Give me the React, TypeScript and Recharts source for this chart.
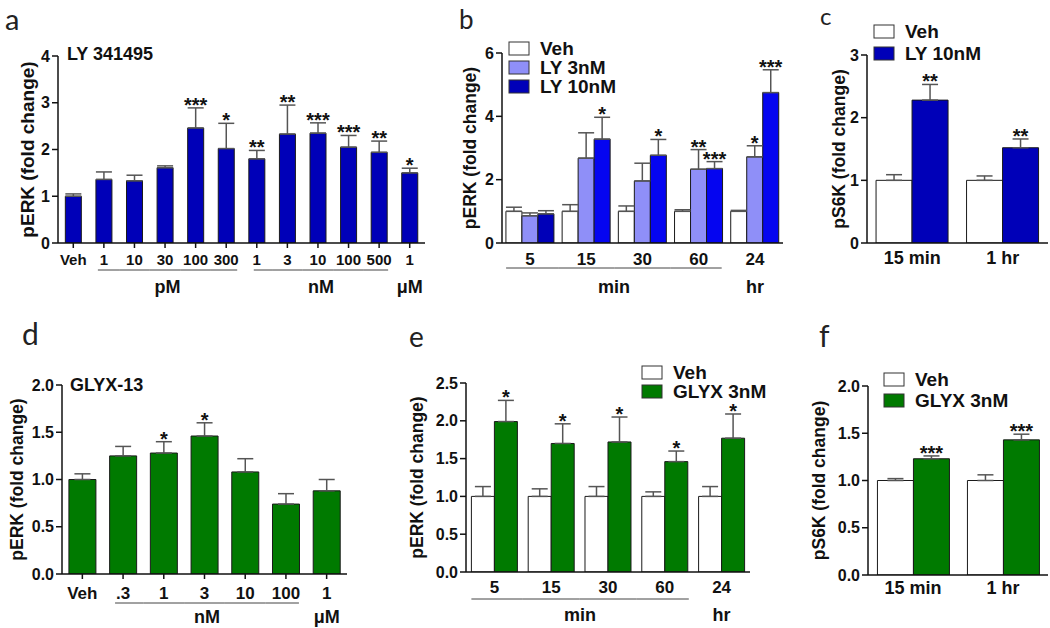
import React from 'react';
import { BarChart, Bar, XAxis, YAxis, ErrorBar, LabelList, Cell } from 'recharts';

const FONT = "'Liberation Sans', Arial, Helvetica, sans-serif";
const INK = '#111';

// panel a: LY 341495 dose response
const aCats = ['Veh', '1', '10', '30', '100', '300', '1', '3', '10', '100', '500', '1'];
const aMean = [1.0, 1.36, 1.33, 1.61, 2.46, 2.02, 1.8, 2.33, 2.35, 2.05, 1.94, 1.5];
const aErr = [0.05, 0.16, 0.12, 0.04, 0.43, 0.54, 0.18, 0.62, 0.22, 0.25, 0.24, 0.1];
const aStars = ['', '', '', '', '***', '*', '**', '**', '***', '***', '**', '*'];

// panel b: LY time course
const bCats = ['5', '15', '30', '60', '24'];
const bVeh = [1.0, 1.0, 1.0, 1.0, 1.0];
const bVehErr = [0.13, 0.21, 0.17, 0.05, 0.03];
const bLy3 = [0.86, 2.68, 1.96, 2.33, 2.72];
const bLy3Err = [0.09, 0.8, 0.56, 0.62, 0.35];
const bLy3Stars = ['', '', '', '**', '*'];
const bLy10 = [0.92, 3.28, 2.77, 2.35, 4.75];
const bLy10Err = [0.1, 0.69, 0.5, 0.22, 0.72];
const bLy10Stars = ['', '*', '*', '***', '***'];

// panel c: pS6K, LY
const cCats = ['15 min', '1 hr'];
const cVeh = [1.0, 1.0];
const cVehErr = [0.09, 0.07];
const cLy = [2.28, 1.52];
const cLyErr = [0.25, 0.14];
const cLyStars = ['**', '**'];

// panel d: GLYX-13 dose response
const dCats = ['Veh', '.3', '1', '3', '10', '100', '1'];
const dMean = [1.0, 1.25, 1.28, 1.46, 1.08, 0.74, 0.88];
const dErr = [0.06, 0.1, 0.12, 0.14, 0.14, 0.11, 0.12];
const dStars = ['', '', '*', '*', '', '', ''];

// panel e: GLYX time course
const eCats = ['5', '15', '30', '60', '24'];
const eVeh = [1.0, 1.0, 1.0, 1.0, 1.0];
const eVehErr = [0.13, 0.1, 0.13, 0.06, 0.13];
const eGlyx = [1.99, 1.7, 1.72, 1.46, 1.77];
const eGlyxErr = [0.28, 0.26, 0.33, 0.14, 0.32];
const eGlyxStars = ['*', '*', '*', '*', '*'];

// panel f: pS6K, GLYX
const fCats = ['15 min', '1 hr'];
const fVeh = [1.0, 1.0];
const fVehErr = [0.02, 0.06];
const fGlyx = [1.23, 1.43];
const fGlyxErr = [0.03, 0.06];
const fGlyxStars = ['***', '***'];

const none = (n: number) => Array(n).fill('');

type Series = { name: string; fill: string; cells?: string[]; mean: number[]; err: number[]; stars: string[] };
type Group = { from: number; to: number; label: string; line: boolean; l: number; r: number };
type Legend = { x: number; y: number; step: number; textX: number };
type PanelCfg = {
  box: [number, number, number, number];
  cats: string[];
  series: Series[];
  yTicks: number[];
  yDigits: number;
  yLabel: string;
  yLabelSize: number;
  yLabelX: number;
  yTickSize: number;
  xTickSize: number;
  xTickDy: number;
  xTickLine: boolean;
  groups: Group[];
  lineDy: number;
  unitDy: number;
  gap: string;
  legend?: Legend;
};

const BLUE = '#0000b8';
const BRIGHT = '#0505f0';
const LIGHT = '#8f8ff8';
const GREEN = '#007a00';

const panels: PanelCfg[] = [
  {
    box: [58, 56, 425, 243],
    cats: aCats,
    series: [{ name: 'LY', fill: BLUE, mean: aMean, err: aErr, stars: aStars }],
    yTicks: [0, 1, 2, 3, 4], yDigits: 0,
    yLabel: 'pERK (fold change)', yLabelSize: 19, yLabelX: 27,
    yTickSize: 16, xTickSize: 15, xTickDy: 16, xTickLine: true,
    groups: [
      { from: 1, to: 5, label: 'pM', line: true, l: 6, r: 11 },
      { from: 6, to: 10, label: 'nM', line: true, l: 3, r: 9 },
      { from: 11, to: 11, label: 'μM', line: false, l: 0, r: 0 },
    ],
    lineDy: 27, unitDy: 44, gap: '24%',
  },
  {
    box: [502, 53, 783, 243],
    cats: bCats,
    series: [
      { name: 'Veh', fill: '#ffffff', mean: bVeh, err: bVehErr, stars: none(5) },
      { name: 'LY 3nM', fill: LIGHT, mean: bLy3, err: bLy3Err, stars: bLy3Stars },
      { name: 'LY 10nM', fill: BLUE, cells: [BLUE, BRIGHT, BRIGHT, BRIGHT, BRIGHT], mean: bLy10, err: bLy10Err, stars: bLy10Stars },
    ],
    yTicks: [0, 2, 4, 6], yDigits: 0,
    yLabel: 'pERK (fold change)', yLabelSize: 17.5, yLabelX: 470,
    yTickSize: 16, xTickSize: 17, xTickDy: 16, xTickLine: false,
    groups: [
      { from: 0, to: 3, label: 'min', line: true, l: 24, r: 23 },
      { from: 4, to: 4, label: 'hr', line: false, l: 0, r: 0 },
    ],
    lineDy: 25, unitDy: 44, gap: '7%',
    legend: { x: 509, y: 42, step: 19, textX: 540 },
  },
  {
    box: [867, 55, 1048, 243],
    cats: cCats,
    series: [
      { name: 'Veh', fill: '#ffffff', mean: cVeh, err: cVehErr, stars: none(2) },
      { name: 'LY 10nM', fill: BLUE, mean: cLy, err: cLyErr, stars: cLyStars },
    ],
    yTicks: [0, 1, 2, 3], yDigits: 0,
    yLabel: 'pS6K (fold change)', yLabelSize: 17.5, yLabelX: 839,
    yTickSize: 16, xTickSize: 18, xTickDy: 15, xTickLine: false,
    groups: [], lineDy: 25, unitDy: 44, gap: '10%',
    legend: { x: 874, y: 25, step: 22, textX: 905 },
  },
  {
    box: [62, 385, 347, 574],
    cats: dCats,
    series: [{ name: 'GLYX', fill: GREEN, mean: dMean, err: dErr, stars: dStars }],
    yTicks: [0, 0.5, 1, 1.5, 2], yDigits: 1,
    yLabel: 'pERK (fold change)', yLabelSize: 17.5, yLabelX: 17,
    yTickSize: 16, xTickSize: 17, xTickDy: 19, xTickLine: true,
    groups: [
      { from: 1, to: 5, label: 'nM', line: true, l: 8, r: 13 },
      { from: 6, to: 6, label: 'μM', line: false, l: 0, r: 0 },
    ],
    lineDy: 29, unitDy: 43, gap: '17%',
  },
  {
    box: [466, 383, 750, 572],
    cats: eCats,
    series: [
      { name: 'Veh', fill: '#ffffff', mean: eVeh, err: eVehErr, stars: none(5) },
      { name: 'GLYX 3nM', fill: GREEN, mean: eGlyx, err: eGlyxErr, stars: eGlyxStars },
    ],
    yTicks: [0, 0.5, 1, 1.5, 2, 2.5], yDigits: 1,
    yLabel: 'pERK (fold change)', yLabelSize: 17.5, yLabelX: 417,
    yTickSize: 16, xTickSize: 17, xTickDy: 15, xTickLine: false,
    groups: [
      { from: 0, to: 3, label: 'min', line: true, l: 23, r: 24 },
      { from: 4, to: 4, label: 'hr', line: false, l: 0, r: 0 },
    ],
    lineDy: 27, unitDy: 43, gap: '9.5%',
    legend: { x: 642, y: 366, step: 19, textX: 673 },
  },
  {
    box: [868, 386, 1048, 575],
    cats: fCats,
    series: [
      { name: 'Veh', fill: '#ffffff', mean: fVeh, err: fVehErr, stars: none(2) },
      { name: 'GLYX 3nM', fill: GREEN, mean: fGlyx, err: fGlyxErr, stars: fGlyxStars },
    ],
    yTicks: [0, 0.5, 1, 1.5, 2], yDigits: 1,
    yLabel: 'pS6K (fold change)', yLabelSize: 17.5, yLabelX: 819,
    yTickSize: 16, xTickSize: 18, xTickDy: 13, xTickLine: false,
    groups: [], lineDy: 25, unitDy: 44, gap: '10.5%',
    legend: { x: 884, y: 373, step: 21, textX: 915 },
  },
];

const letters = [
  { t: 'a', x: 5, y: 30, s: 29 },
  { t: 'b', x: 459, y: 29, s: 26 },
  { t: 'c', x: 820, y: 25, s: 24 },
  { t: 'd', x: 22, y: 345, s: 30 },
  { t: 'e', x: 409, y: 347, s: 28 },
  { t: 'f', x: 819, y: 347, s: 30 },
];

const titles = [
  { t: 'LY 341495', x: 67, y: 60 },
  { t: 'GLYX-13', x: 70, y: 391 },
];

function Panel({ cfg }: { cfg: PanelCfg }) {
  const [l, t, r, b] = cfg.box;
  const W = r - l + 70;
  const H = b - t + 85;
  const axisY = b - t + 20;
  const band = (r - l) / cfg.cats.length;
  const yMax = cfg.yTicks[cfg.yTicks.length - 1];
  const ppu = (b - t) / yMax;

  const rows = cfg.cats.map((c, i) => {
    const row: any = { key: `c${i}` };
    cfg.series.forEach((s, k) => {
      row[`v${k}`] = s.mean[i];
      row[`e${k}`] = [0, s.err[i]];
      row[`s${k}`] = s.stars[i] ? `${s.stars[i]}|${s.err[i]}` : '';
    });
    return row;
  });

  const renderTick = (p: any) => {
    const i = p.index ?? p.payload?.index ?? 0;
    const x = p.x;
    const els: React.ReactNode[] = [
      <text key="t" x={x} y={axisY + cfg.xTickDy} textAnchor="middle" dominantBaseline="central"
        fontSize={cfg.xTickSize} fontWeight={700} fontFamily={FONT} fill={INK}>{cfg.cats[i]}</text>,
    ];
    cfg.groups.forEach((g, gi) => {
      if (i < g.from || i > g.to) return;
      if (g.line) {
        const x1 = i === g.from ? x - g.l : x - band / 2;
        const x2 = i === g.to ? x + g.r : x + band / 2;
        els.push(<line key={`l${gi}`} x1={x1} x2={x2} y1={axisY + cfg.lineDy} y2={axisY + cfg.lineDy} stroke="#444" strokeWidth={1} />);
      }
      if (i === g.from) {
        const span = (g.to - g.from) * band;
        const mid = x + (span + g.r - g.l) / 2;
        els.push(
          <text key={`u${gi}`} x={mid} y={axisY + cfg.unitDy} textAnchor="middle" dominantBaseline="central"
            fontSize={18} fontWeight={700} fontFamily={FONT} fill={INK}>{g.label}</text>,
        );
      }
    });
    return <g>{els}</g>;
  };

  const renderStar = (p: any) => {
    const raw = p.value;
    if (!raw) return null;
    const [txt, e] = String(raw).split('|');
    const vb = p.viewBox ?? p;
    const top = Math.min(vb.y, vb.y + vb.height);
    const yErr = top - Number(e) * ppu;
    return (
      <text x={vb.x + vb.width / 2} y={yErr + 4} textAnchor="middle" fontSize={20} fontWeight={700}
        fontFamily={FONT} fill={INK}>{txt}</text>
    );
  };

  return (
    <div style={{ position: 'absolute', left: l - 60, top: t - 20, width: W, height: H }}>
      <BarChart width={W} height={H} data={rows} margin={{ top: 20, right: 10, bottom: 5, left: 20 }}
        barCategoryGap={cfg.gap} barGap={0}>
        <XAxis dataKey="key" height={60} interval={0} tickSize={5}
          axisLine={{ stroke: INK, strokeWidth: 1.5 }}
          tickLine={cfg.xTickLine ? { stroke: INK, strokeWidth: 1.5 } : false}
          tick={renderTick} />
        <YAxis width={40} domain={[0, yMax]} ticks={cfg.yTicks} interval={0} allowDataOverflow
          tickFormatter={(v: number) => v.toFixed(cfg.yDigits)}
          axisLine={{ stroke: INK, strokeWidth: 1.5 }} tickLine={{ stroke: INK, strokeWidth: 1.5 }} tickSize={6}
          tick={{ fill: INK, fontSize: cfg.yTickSize, fontWeight: 700, fontFamily: FONT }} />
        {cfg.series.map((s, k) => (
          <Bar key={k} dataKey={`v${k}`} fill={s.fill} stroke="#1a1a1a" strokeWidth={1} isAnimationActive={false}>
            {s.cells && s.cells.map((c, i) => <Cell key={i} fill={c} />)}
            <ErrorBar dataKey={`e${k}`} width={8} stroke="#555" strokeWidth={1.5} direction="y" />
            <LabelList dataKey={`s${k}`} content={renderStar} />
          </Bar>
        ))}
      </BarChart>
    </div>
  );
}

export default function App() {
  return (
    <div style={{ position: 'absolute', left: 0, top: 0, width: 1050, height: 628, background: '#fff', overflow: 'hidden' }}>
      {panels.map((p, i) => <Panel key={i} cfg={p} />)}
      <svg width={1050} height={628} style={{ position: 'absolute', left: 0, top: 0, pointerEvents: 'none' }}>
        {letters.map((L) => (
          <text key={L.t} x={L.x} y={L.y} fontSize={L.s} fontFamily="Lato, 'Open Sans', sans-serif" fill="#222">{L.t}</text>
        ))}
        {titles.map((T) => (
          <text key={T.t} x={T.x} y={T.y} fontSize={18} fontWeight={700} fontFamily={FONT} fill={INK}>{T.t}</text>
        ))}
        {panels.map((p, i) => {
          const cy = (p.box[1] + p.box[3]) / 2;
          return (
            <text key={`yl${i}`} x={p.yLabelX} y={cy} transform={`rotate(-90 ${p.yLabelX} ${cy})`}
              textAnchor="middle" dominantBaseline="central" fontSize={p.yLabelSize} fontWeight={700}
              fontFamily={FONT} fill={INK}>{p.yLabel}</text>
          );
        })}
        {panels.filter((p) => p.legend).map((p, pi) =>
          p.series.map((s, k) => {
            const lg = p.legend as Legend;
            const y = lg.y + k * lg.step;
            return (
              <g key={`${pi}-${k}`}>
                <rect x={lg.x} y={y} width={20} height={13} fill={s.fill} stroke="#333" strokeWidth={1} />
                <text x={lg.textX} y={y + 6.5} dominantBaseline="central" fontSize={19} fontWeight={700}
                  fontFamily={FONT} fill={INK}>{s.name}</text>
              </g>
            );
          }),
        )}
      </svg>
    </div>
  );
}
